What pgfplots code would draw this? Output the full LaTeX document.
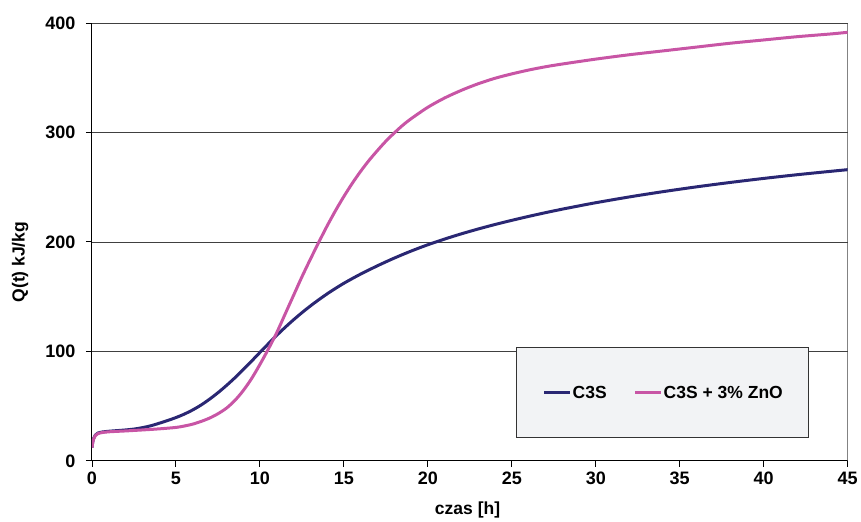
\documentclass[border=0pt]{standalone}
\usepackage{pgfplots}
\pgfplotsset{compat=1.18}
\usepackage{fontspec}
\setmainfont{Liberation Sans}

\definecolor{cthree}{HTML}{2A2773}
\definecolor{czno}{HTML}{C855A5}
\definecolor{legfill}{HTML}{F2F3F5}

\pgfplotstableread{
t Q
0 12
0.05 17.5
0.1 20.5
0.2 23.5
0.35 25.3
0.6 26.3
1 27
1.5 27.6
2 28.2
2.5 29
3 30.3
3.5 32
4 34.3
4.5 36.8
5 39.5
5.5 42.7
6 46.5
6.5 51
7 56.3
7.5 62.2
8 68.7
8.5 75.7
9 83.2
9.5 91
10 99
10.5 106.9
11 114.6
11.5 121.9
12 128.8
12.5 135.3
13 141.4
13.5 147.1
14 152.5
14.5 157.5
15 162.2
15.5 166.5
16 170.6
17 178.2
18 185.2
19 191.6
20 197.4
21 202.6
22 207.4
23 211.8
24 215.9
25 219.7
26 223.3
27 226.7
28 229.9
29 232.9
30 235.8
32 241.1
34 245.9
36 250.3
38 254.3
40 258
42 261.4
44 264.5
45 266
}\cthreedata

\pgfplotstableread{
t Q
0 12
0.05 17
0.1 20
0.2 23
0.35 24.8
0.6 25.8
1 26.5
2 27.3
3 28.2
4 29.2
5 30.5
5.5 31.8
6 33.5
6.5 36
7 39
7.5 43
8 48
8.5 55
9 64
9.5 75
10 88
10.5 102
11 117
11.5 134
12 151
12.5 168
13 184
13.5 199.5
14 214.5
14.5 228.5
15 241.5
15.5 253.5
16 264.5
16.5 274.5
17 283.5
17.5 292
18 299.5
18.5 306.5
19 312.5
20 323
21 331.5
22 338.5
23 344.5
24 349.5
25 353.5
26 357
27 360
28 362.5
30 367
32 371
34 374.5
36 378
38 381.5
40 384.5
42 387.5
44 390
45 391.5
}\znodata

\begin{document}
\begin{tikzpicture}
\begin{axis}[
  scale only axis,
  width=756pt, height=438pt,
  xmin=0, xmax=45, ymin=0, ymax=400,
  xtick={0,5,...,45},
  ytick={0,100,200,300,400},
  axis x line*=bottom, axis y line*=left,
  axis line style={black, line width=1pt, -},
  tick align=outside,
  major tick length=6pt,
  tick style={black, line width=0.9pt},
  ymajorgrids,
  major grid style={black!75, line width=0.8pt},
  /pgf/number format/assume math mode=true,
  ticklabel style={font=\bfseries\fontsize{18}{20}\selectfont},
  yticklabel style={xshift=-7pt},
  xticklabel style={yshift=-2pt},
  xlabel={czas [h]},
  ylabel={Q(t) kJ/kg},
  label style={font=\bfseries\fontsize{17.5}{20}\selectfont},
  xlabel style={at={(rel axis cs:0.497,-0.112)}, anchor=center},
  ylabel style={at={(rel axis cs:-0.0952,0.454)}, anchor=center},
  legend columns=2,
  legend style={at={(rel axis cs:0.756,0.1556)}, anchor=center,
    draw=none, fill=none,
    font=\bfseries\fontsize{17.5}{20}\selectfont,
    nodes={inner xsep=1pt, inner ysep=2pt},
    /tikz/every even column/.append style={column sep=26pt}},
  legend image code/.code={\draw[#1] (0pt,0pt) -- (26pt,0pt);},
]
\draw[black!75, line width=0.9pt] (rel axis cs:1,0) -- (rel axis cs:1,1);
\addplot[cthree, line width=3pt, smooth] table[x=t, y=Q] {\cthreedata};
\addlegendentry{C3S}
\addplot[czno, line width=3pt, smooth] table[x=t, y=Q] {\znodata};
\addlegendentry{C3S + 3\% ZnO}
\draw[black!80, line width=1pt, fill=legfill]
  (rel axis cs:0.5622,0.0532) rectangle (rel axis cs:0.9478,0.258);
\end{axis}
\path (current axis.south west) ++(-92pt,-61pt) rectangle ++(861pt,522pt);
\end{tikzpicture}
\end{document}
